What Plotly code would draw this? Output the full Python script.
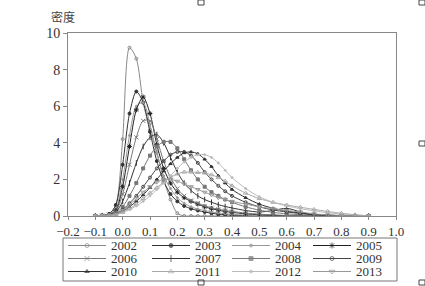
import plotly.graph_objects as go

x_grid = [-0.1, -0.075, -0.05, -0.025, 0, 0.025, 0.05, 0.075, 0.1, 0.125, 0.15, 0.175, 0.2,
          0.225, 0.25, 0.275, 0.3, 0.325, 0.35, 0.375, 0.4, 0.45, 0.5, 0.55, 0.6, 0.65, 0.7,
          0.75, 0.8, 0.85, 0.9]

years = ["2002", "2003", "2004", "2005", "2006", "2007", "2008", "2009", "2010", "2011", "2012", "2013"]

d2002 = [0, 0.02, 0.1, 0.6, 4.2, 9.2, 8.6, 6.2, 4.7, 3.5, 2.0, 0.9, 0.15, 0, 0, 0, 0, 0, 0, 0, 0, 0, 0, 0, 0, 0, 0, 0, 0, 0, 0]
d2003 = [0, 0.02, 0.1, 0.6, 2.8, 5.6, 6.8, 6.2, 4.6, 3.0, 1.9, 1.2, 0.8, 0.55, 0.4, 0.3, 0.22, 0.15, 0.1, 0.07, 0.05, 0.02, 0, 0, 0, 0, 0, 0, 0, 0, 0]
d2004 = [0, 0.02, 0.08, 0.4, 2.0, 4.4, 6.0, 6.2, 5.0, 3.4, 2.2, 1.5, 1.0, 0.7, 0.5, 0.38, 0.3, 0.22, 0.17, 0.12, 0.09, 0.05, 0.02, 0, 0, 0, 0, 0, 0, 0, 0]
d2005 = [0, 0.02, 0.08, 0.3, 1.6, 3.8, 5.8, 6.5, 5.6, 3.9, 2.6, 1.8, 1.3, 1.0, 0.8, 0.65, 0.5, 0.4, 0.32, 0.25, 0.2, 0.12, 0.07, 0.04, 0.02, 0, 0, 0, 0, 0, 0]
d2006 = [0, 0.02, 0.07, 0.25, 1.2, 2.8, 4.3, 5.2, 5.2, 4.2, 3.0, 2.1, 1.5, 1.1, 0.85, 0.7, 0.55, 0.45, 0.37, 0.3, 0.25, 0.16, 0.1, 0.06, 0.03, 0.01, 0, 0, 0, 0, 0]
d2007 = [0, 0.02, 0.06, 0.2, 0.8, 1.8, 2.9, 3.8, 4.3, 4.45, 4.0, 3.2, 2.4, 1.8, 1.4, 1.1, 0.9, 0.75, 0.62, 0.52, 0.44, 0.3, 0.22, 0.3, 0.42, 0.22, 0.02, 0, 0, 0, 0]
d2008 = [0, 0.02, 0.05, 0.15, 0.5, 1.1, 1.8, 2.6, 3.3, 3.8, 4.05, 4.05, 3.7, 3.1, 2.5, 2.0, 1.6, 1.3, 1.1, 0.9, 0.75, 0.5, 0.32, 0.2, 0.12, 0.07, 0.03, 0.01, 0, 0, 0]
d2009 = [0, 0.02, 0.05, 0.12, 0.35, 0.7, 1.1, 1.6, 2.1, 2.6, 3.0, 3.35, 3.5, 3.5, 3.3, 2.9, 2.4, 2.0, 1.65, 1.35, 1.1, 0.75, 0.5, 0.33, 0.22, 0.14, 0.08, 0.04, 0.02, 0.01, 0]
d2010 = [0, 0.01, 0.04, 0.1, 0.25, 0.5, 0.8, 1.15, 1.55, 2.0, 2.45, 2.85, 3.2, 3.45, 3.5, 3.4, 3.1, 2.7, 2.2, 1.8, 1.45, 1.0, 0.65, 0.42, 0.27, 0.16, 0.09, 0.05, 0.02, 0.01, 0]
d2011 = [0, 0.01, 0.03, 0.08, 0.2, 0.4, 0.65, 0.95, 1.25, 1.55, 1.85, 2.1, 2.3, 2.4, 2.4, 2.38, 2.35, 2.25, 2.1, 1.9, 1.65, 1.25, 0.95, 0.75, 0.6, 0.48, 0.36, 0.25, 0.15, 0.07, 0.01]
d2012 = [0, 0.01, 0.03, 0.07, 0.18, 0.35, 0.55, 0.8, 1.1, 1.45, 1.8, 2.2, 2.6, 2.95, 3.2, 3.35, 3.35, 3.2, 2.9, 2.5, 2.1, 1.5, 1.05, 0.75, 0.55, 0.4, 0.28, 0.18, 0.1, 0.05, 0.01]
d2013 = [0, 0.01, 0.04, 0.1, 0.3, 0.6, 0.95, 1.3, 1.6, 1.85, 2.0, 2.0, 1.9, 1.75, 1.6, 1.45, 1.3, 1.15, 1.0, 0.9, 0.8, 0.65, 0.5, 0.4, 0.3, 0.22, 0.12, 0.06, 0.03, 0.01, 0]

series = [d2002, d2003, d2004, d2005, d2006, d2007, d2008, d2009, d2010, d2011, d2012, d2013]

styles = [
    ("circle-open", "#8a8a8a", 3),
    ("circle", "#333333", 3),
    ("circle", "#999999", 2),
    ("asterisk-open", "#222222", 4),
    ("x-thin-open", "#777777", 4),
    ("line-ns-open", "#333333", 4),
    ("square", "#777777", 3),
    ("circle-open", "#444444", 3),
    ("triangle-up", "#333333", 3),
    ("triangle-up-open", "#aaaaaa", 4),
    ("circle", "#bbbbbb", 2),
    ("triangle-down-open", "#999999", 4),
]

W, H = 425, 286
PL, PR, PT, PB = 68, 396, 33, 216   # plot box in pixels

fig = go.Figure()
for name, ys, (sym, col, sz) in zip(years, series, styles):
    fig.add_trace(go.Scatter(
        x=x_grid, y=ys, name=name, mode="lines+markers", showlegend=False,
        line=dict(color=col, width=1, shape="spline", smoothing=0.8),
        marker=dict(symbol=sym, color=col, size=sz, line=dict(color=col, width=1)),
    ))

serif = "Liberation Serif"

# compact legend drawn on a full-page pixel overlay axis (x2/y2)
col_start = [68, 152, 232, 313]
row_y = [245.5, 258.5, 271.5]
seg_len = 38
shapes = [dict(type="rect", xref="x2", yref="y2", x0=63, x1=397, y0=238, y1=281,
               line=dict(color="#777777", width=1))]
annotations = []
for i, (name, (sym, col, sz)) in enumerate(zip(years, styles)):
    c, r = i % 4, i // 4
    x0 = col_start[c]
    y0 = row_y[r]
    fig.add_trace(go.Scatter(
        x=[x0, x0 + seg_len / 2, x0 + seg_len], y=[y0, y0, y0], mode="lines+markers",
        xaxis="x2", yaxis="y2", showlegend=False, hoverinfo="skip",
        line=dict(color=col, width=1),
        marker=dict(symbol=sym, color=col, size=[0, sz + 1, 0], line=dict(color=col, width=1)),
    ))
    annotations.append(dict(text=name, x=x0 + seg_len + 3, y=y0, xref="x2", yref="y2",
                            xanchor="left", yanchor="middle", showarrow=False,
                            font=dict(family=serif, size=13, color="#333333")))

annotations.append(dict(text="密度", x=49, y=16, xref="x2", yref="y2",
                        xanchor="left", yanchor="middle", showarrow=False,
                        font=dict(family="Noto Sans CJK SC", size=12, color="#444444")))

# small scan-artifact boxes seen at the page edges
for (bx, by) in [(198, 0), (419, 0), (419, 141), (198, 280), (419, 280)]:
    shapes.append(dict(type="rect", xref="x2", yref="y2", x0=bx, x1=bx + 6, y0=by, y1=by + 5,
                       line=dict(color="#444444", width=1)))

fig.update_layout(
    width=W, height=H,
    margin=dict(l=0, r=0, t=0, b=0, pad=0, autoexpand=False),
    paper_bgcolor="white", plot_bgcolor="rgba(0,0,0,0)",
    font=dict(family=serif, size=14, color="#333333"),
    showlegend=False,
    xaxis=dict(domain=[PL / W, PR / W], anchor="y",
               range=[-0.2, 1.0], dtick=0.1, tick0=-0.2, tickformat=".1f", tickangle=0,
               showgrid=False, zeroline=False, showline=True, linecolor="#888888",
               linewidth=1, mirror=True, ticks="outside", ticklen=3, tickcolor="#888888",
               automargin=False,
               tickfont=dict(family=serif, size=13, color="#333333")),
    yaxis=dict(domain=[(H - PB) / H, (H - PT) / H], anchor="x",
               range=[0, 10], dtick=2, showgrid=False, zeroline=False, showline=True,
               linecolor="#888888", linewidth=1, mirror=True, ticks="outside", ticklen=4,
               tickcolor="#888888", automargin=False,
               tickfont=dict(family=serif, size=14, color="#333333")),
    xaxis2=dict(domain=[0, 1], range=[0, W], visible=False, anchor="y2", fixedrange=True,
                automargin=False),
    yaxis2=dict(domain=[0, 1], range=[H, 0], visible=False, anchor="x2", fixedrange=True,
                automargin=False),
    shapes=shapes,
    annotations=annotations,
)

fig.write_html("out.html")
